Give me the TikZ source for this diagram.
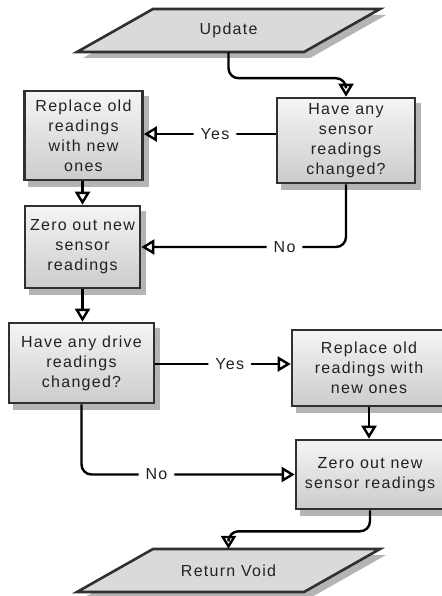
\documentclass[tikz,border=0pt]{standalone}
\usepackage{fontspec}
\setmainfont{Liberation Sans}[LetterSpace=8]
\usetikzlibrary{arrows.meta,calc,backgrounds}
\definecolor{edgecol}{HTML}{303030}
\definecolor{shadecol}{HTML}{B4B4B4}
\definecolor{inkcol}{HTML}{222222}
\definecolor{iofill}{HTML}{DADADA}

% parallelogram outline (with its shadow) around an I/O node
\newcommand\ioshape[1]{%
  \fill[shadecol] ($(#1.center)+(-145.5,27.5)$) -- ($(#1.center)+(-69.5,-15.5)$)
     -- ($(#1.center)+(157.5,-15.5)$) -- ($(#1.center)+(81.5,27.5)$) -- cycle;
  \draw[iobox] ($(#1.center)+(-151.5,21.5)$) -- ($(#1.center)+(-75.5,-21.5)$)
     -- ($(#1.center)+(151.5,-21.5)$) -- ($(#1.center)+(75.5,21.5)$) -- cycle;}
% box shadow
\newcommand\boxshadow[1]{%
  \fill[shadecol] ($(#1.south west)+(5,6)$) rectangle ($(#1.north east)+(5,6)$);}

\begin{document}
\begin{tikzpicture}[x=1pt,y=-1pt,
  font=\fontsize{16}{20}\selectfont,
  procbox/.style={draw=edgecol, line width=2.6pt, top color=gray!8, bottom color=gray!40,
    align=center, text=inkcol, inner sep=0pt},
  iobox/.style={draw=edgecol, line width=2.6pt, fill=iofill},
  iotext/.style={align=center, text=inkcol, inner sep=0pt, minimum height=43},
  conn/.style={draw=black, line width=2.4pt, rounded corners=10,
    -{Triangle[open, length=13pt, width=15pt, line width=2.4pt]}},
  lbl/.style={fill=white, text=inkcol, inner xsep=7pt, inner ysep=2pt}]

\useasboundingbox (0,0) rectangle (441,596);

% nodes
\node[iotext] (upd) at (228.5,30.5) {Update};
\node[procbox, minimum width=138, minimum height=85] (sens) at (346,140.5)
  {Have any\\sensor\\readings\\changed?};
\node[procbox, minimum width=118, minimum height=89] (rep1) at (83.5,135.5)
  {Replace old\\readings\\with new\\ones};
\node[procbox, minimum width=115, minimum height=82] (zero1) at (82.5,247)
  {Zero out new\\sensor\\readings};
\node[procbox, minimum width=145, minimum height=80] (drive) at (81.5,363)
  {Have any drive\\readings\\changed?};
\node[procbox, minimum width=154, minimum height=76] (rep2) at (369,368)
  {Replace old\\readings with\\new ones};
\node[procbox, minimum width=148, minimum height=69] (zero2) at (370,474.5)
  {Zero out new\\sensor readings};
\node[iotext] (ret) at (228.5,570.5) {Return Void};

% backdrop, shadows and I/O shapes
\begin{scope}[on background layer]
  \fill[white] (0,0) rectangle (441,596);
  \boxshadow{sens}\boxshadow{rep1}\boxshadow{zero1}
  \boxshadow{drive}\boxshadow{rep2}\boxshadow{zero2}
  \ioshape{upd}
  \ioshape{ret}
\end{scope}

% connectors
\draw[conn] (upd.south) -- ++(0,26) -| (sens.north);
\draw[conn] (sens.west |- 0,134) -- node[lbl, pos=0.46] {Yes} (rep1.east |- 0,134);
\draw[conn] (rep1.south -| 82.5,0) -- (zero1.north);
\draw[conn] (sens.south) |- node[lbl, pos=0.65] {No} (zero1.east);
\draw[conn] (zero1.south) -- (zero1.south |- drive.north);
\draw[conn] (drive.east |- 0,364) -- node[lbl, pos=0.55] {Yes} (rep2.west |- 0,364);
\draw[conn] (rep2.south) -- (rep2.south |- zero2.north);
\draw[conn] (drive.south) |- node[lbl, pos=0.676] {No} (zero2.west);
\draw[conn] (zero2.south) -- ++(0,21) -| (ret.north);
\end{tikzpicture}
\end{document}
